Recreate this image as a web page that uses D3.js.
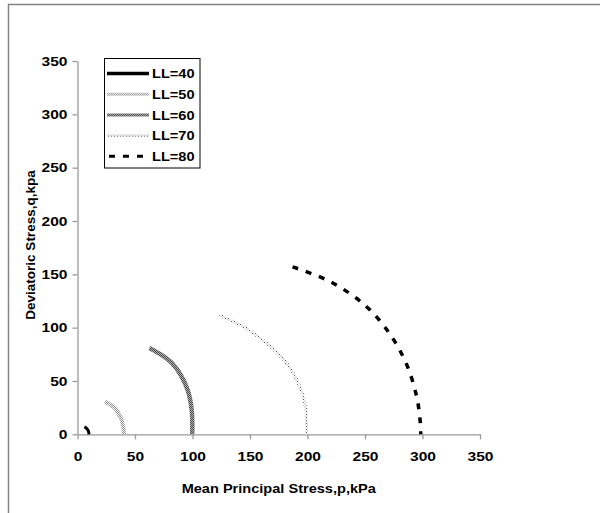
<!DOCTYPE html>
<html>
<head>
<meta charset="utf-8">
<script src="https://cdn.jsdelivr.net/npm/d3@7"></script>
<style>
  html, body { margin: 0; padding: 0; background: #fff; }
  svg text { font-family: "Liberation Sans", Arial, sans-serif; font-weight: bold; fill: #000; }
</style>
</head>
<body>
<div id="chart"></div>
<script>
// values
let names = ["LL=40", "LL=50", "LL=60", "LL=70", "LL=80"];
let ll40 = [[6, 7], [8, 5.5], [9.5, 3], [10, 0]];
let ll50 = [[24, 30.5], [32.5, 24.5], [37.8, 15], [39.8, 7], [40.4, 0]];
let ll60 = [[62.5, 81], [71.7, 75.3], [82, 67], [89, 57], [95.8, 41.5], [99.3, 22.8], [99.8, 0]];
let ll70 = [[123.5, 111.5], [144, 101], [164.5, 85.3], [182, 66.5], [192, 47.8], [197.8, 29], [199.3, 0]];
let ll80 = [[187, 157], [220, 143], [250, 121], [271, 95], [286, 66], [295, 35], [298, 12], [298.5, 0]];
let pTicks = [0, 50, 100, 150, 200, 250, 300, 350];
let qTicks = [0, 50, 100, 150, 200, 250, 300, 350];

let series = [ll40, ll50, ll60, ll70, ll80];

var w = 600, h = 513;
var plotL = 77.5, plotR = 480, plotT = 61, plotB = 434.3;

let svg = d3.select("#chart")
  .append("svg")
  .attr("width", w)
  .attr("height", h);

// stroke patterns
let defs = svg.append("defs");
function checker(id, a, b, size) {
  let p = defs.append("pattern")
    .attr("id", id)
    .attr("patternUnits", "userSpaceOnUse")
    .attr("width", size).attr("height", size);
  p.append("rect").attr("width", size).attr("height", size).attr("fill", b);
  p.append("rect").attr("width", size / 2).attr("height", size / 2).attr("fill", a);
  p.append("rect").attr("x", size / 2).attr("y", size / 2).attr("width", size / 2).attr("height", size / 2).attr("fill", a);
}
checker("pat50", "#8c8c8c", "#ffffff", 2);
checker("pat60", "#4a4a4a", "#b0b0b0", 2);
let p70 = defs.append("pattern")
  .attr("id", "pat70")
  .attr("patternUnits", "userSpaceOnUse")
  .attr("width", 3).attr("height", 3);
p70.append("rect").attr("width", 3).attr("height", 3).attr("fill", "#fff");
p70.append("rect").attr("width", 1).attr("height", 1).attr("fill", "#555");
p70.append("rect").attr("x", 1.5).attr("y", 1.5).attr("width", 1).attr("height", 1).attr("fill", "#888");

let styles = [
  { stroke: "#000", width: 3, dash: null },
  { stroke: "url(#pat50)", width: 4, dash: null },
  { stroke: "url(#pat60)", width: 4.5, dash: null },
  { stroke: "url(#pat70)", width: 3, dash: null },
  { stroke: "#000", width: 3.5, dash: "6,8" }
];

// outer frame
svg.append("rect")
  .attr("x", 8.5).attr("y", 4.5)
  .attr("width", 640).attr("height", 560)
  .attr("fill", "none")
  .attr("stroke", "#858585")
  .attr("stroke-width", 1.5);

let xScale = d3.scaleLinear().domain([0, 350]).range([plotL, plotR]);
let yScale = d3.scaleLinear().domain([0, 350]).range([plotB, plotT]);

// the reference text is a little wider than normal
function widen(k) {
  return function (sel) {
    sel.each(function () {
      let L = this.getComputedTextLength();
      d3.select(this).attr("textLength", L * k).attr("lengthAdjust", "spacingAndGlyphs");
    });
  };
}

let xAxis = d3.axisBottom(xScale).tickValues(pTicks).tickSize(5).tickSizeOuter(0).tickPadding(12);
let yAxis = d3.axisLeft(yScale).tickValues(qTicks).tickSize(5).tickSizeOuter(0).tickPadding(5);

let gx = svg.append("g")
  .attr("transform", "translate(0," + plotB + ")")
  .call(xAxis);
let gy = svg.append("g")
  .attr("transform", "translate(" + plotL + ",0)")
  .call(yAxis);

[gx, gy].forEach(function (g) {
  g.select(".domain").attr("stroke", "#9a9a9a").attr("stroke-width", 1.3);
  g.selectAll(".tick line").attr("stroke", "#9a9a9a").attr("stroke-width", 1.3);
  g.selectAll(".tick text")
    .attr("font-size", 13.5)
    .attr("font-family", "Liberation Sans, Arial, sans-serif")
    .attr("font-weight", "bold")
    .attr("fill", "#000")
    .call(widen(1.15));
});

// axis titles
svg.append("text")
  .attr("x", (plotL + plotR) / 2)
  .attr("y", 493)
  .attr("text-anchor", "middle")
  .attr("font-size", 13)
  .text("Mean Principal Stress,p,kPa")
  .call(widen(1.12));

svg.append("text")
  .attr("transform", "translate(35,245) rotate(-90)")
  .attr("text-anchor", "middle")
  .attr("font-size", 13.5)
  .text("Deviatoric Stress,q,kpa");

// curves
let line = d3.line()
  .x(d => xScale(d[0]))
  .y(d => yScale(d[1]))
  .curve(d3.curveCatmullRom.alpha(0.5));

svg.append("g")
  .selectAll("path")
  .data(series)
  .enter()
  .append("path")
  .attr("d", line)
  .attr("fill", "none")
  .attr("stroke", (d, i) => styles[i].stroke)
  .attr("stroke-width", (d, i) => styles[i].width)
  .attr("stroke-dasharray", (d, i) => styles[i].dash);

// legend
let legend = svg.append("g");
legend.append("rect")
  .attr("x", 104.5).attr("y", 58.5)
  .attr("width", 95.5).attr("height", 109.5)
  .attr("fill", "#fff")
  .attr("stroke", "#000")
  .attr("stroke-width", 1);

let rows = legend.selectAll("g.row")
  .data(names)
  .enter()
  .append("g")
  .attr("class", "row")
  .attr("transform", (d, i) => "translate(0," + (73.5 + i * 20.7) + ")");

rows.append("line")
  .attr("x1", (d, i) => i == 4 ? 109 : 107)
  .attr("x2", 149)
  .attr("y1", 0).attr("y2", 0)
  .attr("stroke", (d, i) => styles[i].stroke)
  .attr("stroke-width", (d, i) => i == 0 ? 3.5 : 3)
  .attr("stroke-dasharray", (d, i) => styles[i].dash);

rows.append("text")
  .attr("x", 152)
  .attr("y", 4.6)
  .attr("font-size", 13)
  .text(d => d)
  .call(widen(1.12));
</script>
</body>
</html>
